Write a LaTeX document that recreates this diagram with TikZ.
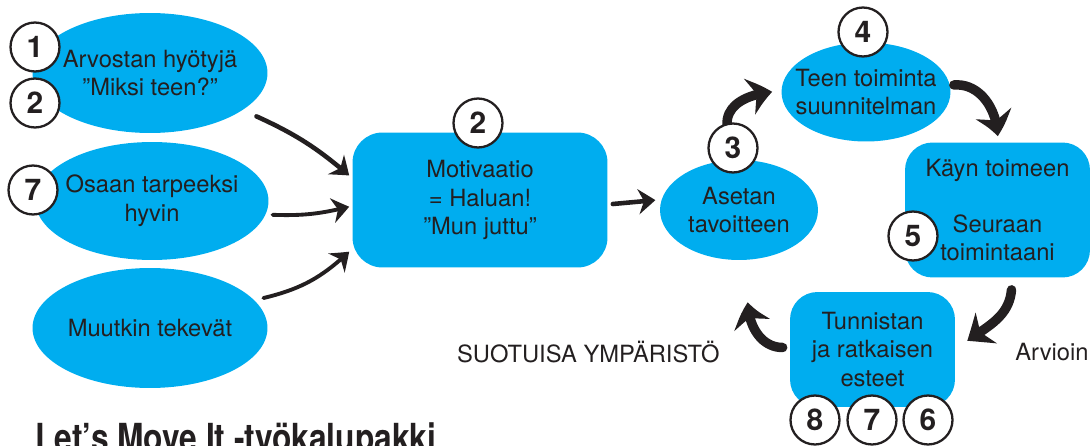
\documentclass[tikz,border=0pt]{standalone}
\usepackage{fontspec}
\setmainfont{TeX Gyre Heros}
\usepackage{graphicx}
\usetikzlibrary{shapes.geometric,arrows.meta,bending,calc}

\definecolor{lmblue}{HTML}{00ADEF}
\definecolor{ink}{HTML}{231F20}

\tikzset{
  bubble/.style={ellipse,fill=lmblue,text=ink,align=center,inner sep=-0.3cm},
  panel/.style={rectangle,rounded corners=0.55cm,fill=lmblue,text=ink,align=center,inner sep=0pt},
  num/.style={circle,draw=ink,fill=white,line width=1.3pt,minimum size=0.98cm,inner sep=0pt,text=ink,font=\fontsize{17}{17}\selectfont\bfseries},
  brush/.style={draw=ink,line width=2.6pt,line cap=round,-{Stealth[length=0.34cm,width=0.5cm,bend]}},
  fatbrush/.style={brush,line width=5.4pt,-{Stealth[length=0.46cm,width=0.74cm,bend]}},
}

\begin{document}
\begin{tikzpicture}[x=0.02cm,y=-0.02cm,font=\fontsize{13.5}{16.3}\selectfont]
\useasboundingbox (0,0) rectangle (1092,446);

\begin{scope}
\node[bubble,minimum width=4.7cm,minimum height=2.4cm] (arv) at (150,73) {Arvostan hyötyjä\\”Miksi teen?”};
\node[bubble,minimum width=4.66cm,minimum height=2.36cm] (osa) at (152,201) {Osaan tarpeeksi\\hyvin};
\node[bubble,minimum width=4.7cm,minimum height=2.4cm] (muu) at (150,328) {Muutkin tekevät};

\node[panel,minimum width=5.1cm,minimum height=2.7cm,rounded corners=0.6cm] (mot) at (480,200) {Motivaatio\\= Haluan!\\”Mun juttu”};

\node[bubble,minimum width=3.16cm,minimum height=2cm] (ase) at (739,210) {Asetan\\tavoitteen};
\node[bubble,minimum width=3.38cm,minimum height=1.98cm] (tee) at (866,92) {Teen toiminta\\suunnitelman};
\node[panel,minimum width=3.7cm,minimum height=2.7cm] (kay) at (997.5,210) {Käyn toimeen\\[15.5pt]Seuraan\\toimintaani};
\node[panel,minimum width=3.3cm,minimum height=2.3cm] (tun) at (872.5,349.5) {Tunnistan\\ja ratkaisen\\esteet};

\node[text=ink,anchor=east,inner sep=0pt] (suo) at (720,352) {SUOTUISA YMPÄRISTÖ};
\node[text=ink,anchor=west,inner sep=0pt] (arvi) at (1015,352) {Arvioin};
\node[text=ink,anchor=base west,inner sep=0pt,font=\fontsize{22}{22}\selectfont\bfseries] (title) at (35,451) {\scalebox{0.82}[1]{Let’s Move It -työkalupakki}};

\draw[brush] ($(arv.-22)+(14,6)$) to[bend left=8] ($(mot.170)+(-3,-2)$);
\draw[brush,line width=2.2pt] ($(osa.-8)+(8,-2)$) to[bend right=8] ($(mot.183)+(-3,0)$);
\draw[brush,line width=2.2pt] ($(muu.15)+(9,-2)$) to[bend right=15] ($(mot.202)+(-3,0)$);
\draw[brush] ($(mot.east)+(5,4)$) -- ($(ase.175)+(-5,-3)$);

\draw[fatbrush] ($(ase.north)+(-12,-35)$) to[out=92,in=185] ($(tee.west)+(-9,0)$);
\draw[fatbrush] ($(tee.east)+(3,-7)$) to[out=5,in=90] ($(kay.north)+(0,-6)$);
\draw[fatbrush] ($(kay.south)+(14,12)$) to[out=-95,in=35] ($(tun.6)+(12,0)$);
\draw[fatbrush] ($(tun.west)+(-7,-2)$) to[out=180,in=-90] ($(ase.south)+(9,42)$);

\node[num] (n1) at (35,47) {1};
\node[num] (n2a) at (35,103) {2};
\node[num] (n7a) at (33,190) {7};
\node[num] (n2b) at (478,123) {2};
\node[num] (n3) at (733,148) {3};
\node[num] (n4) at (863,32) {4};
\node[num] (n5) at (913,236) {5};
\node[num] (n8) at (815,420) {8};
\node[num] (n7b) at (872,420) {7};
\node[num] (n6) at (928,420) {6};
\end{scope}

\end{tikzpicture}
\end{document}
